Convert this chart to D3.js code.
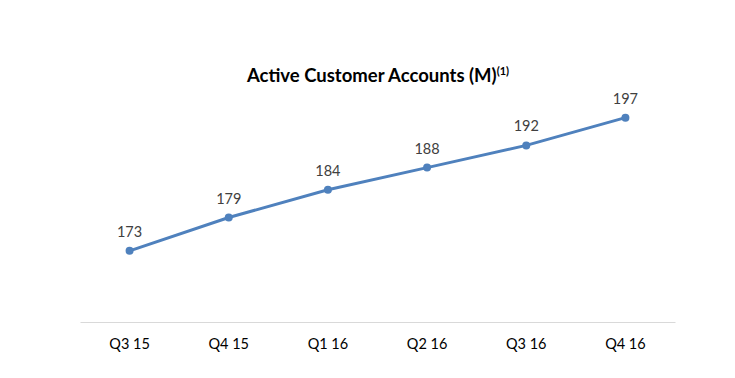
<!DOCTYPE html>
<html>
<head>
<meta charset="utf-8">
<script src="https://cdn.jsdelivr.net/npm/d3@7"></script>
<style>
body { margin: 0; background: #fff; }
text { font-family: Lato, "Open Sans", sans-serif; }
</style>
</head>
<body>
<script>
var quarters = ["Q3 15", "Q4 15", "Q1 16", "Q2 16", "Q3 16", "Q4 16"];
var accounts = [173, 179, 184, 188, 192, 197];

function init(){
	var w = 735;
	var h = 378;

	var svg = d3.select("body")
		.append("svg")
		.attr("width", w)
		.attr("height", h);

	var xScale = d3.scaleBand()
		.domain(quarters)
		.range([80, 675]);

	var yScale = d3.scaleLinear()
		.domain([160, 200])
		.range([323, 101]);

	// baseline axis
	var xAxis = d3.axisBottom(xScale).tickSize(0).tickPadding(17);
	var gx = svg.append("g")
		.attr("transform", "translate(0,322)")
		.call(xAxis);
	gx.select(".domain").attr("stroke", "#d9d9d9").attr("stroke-width", 1.2);
	gx.selectAll("text")
		.style("font-size", "14.5px")
		.attr("fill", "#000");

	var line = d3.line()
		.x(function(d, i){ return xScale(quarters[i]) + xScale.bandwidth() / 2; })
		.y(function(d){ return yScale(d); });

	svg.append("path")
		.datum(accounts)
		.attr("d", line)
		.attr("fill", "none")
		.attr("stroke", "#4f81bd")
		.attr("stroke-width", 3);

	svg.selectAll("circle.pt")
		.data(accounts)
		.enter()
		.append("circle")
		.attr("class", "pt")
		.attr("cx", function(d, i){ return xScale(quarters[i]) + xScale.bandwidth() / 2; })
		.attr("cy", function(d){ return yScale(d); })
		.attr("r", 4)
		.attr("fill", "#4f81bd");

	svg.selectAll("text.lbl")
		.data(accounts)
		.enter()
		.append("text")
		.attr("class", "lbl")
		.attr("x", function(d, i){ return xScale(quarters[i]) + xScale.bandwidth() / 2; })
		.attr("y", function(d){ return yScale(d) - 14; })
		.attr("text-anchor", "middle")
		.attr("fill", "#404040")
		.style("font-size", "14.5px")
		.text(function(d){ return d; });

	var title = svg.append("text")
		.attr("x", 378)
		.attr("y", 82)
		.attr("text-anchor", "middle")
		.style("font-size", "18.5px")
		.style("font-weight", "bold")
		.attr("fill", "#000");
	title.append("tspan").text("Active Customer Accounts (M)");
	title.append("tspan")
		.attr("dy", -7)
		.style("font-size", "11px")
		.text("(1)");
}

window.onload = init;
</script>
</body>
</html>
